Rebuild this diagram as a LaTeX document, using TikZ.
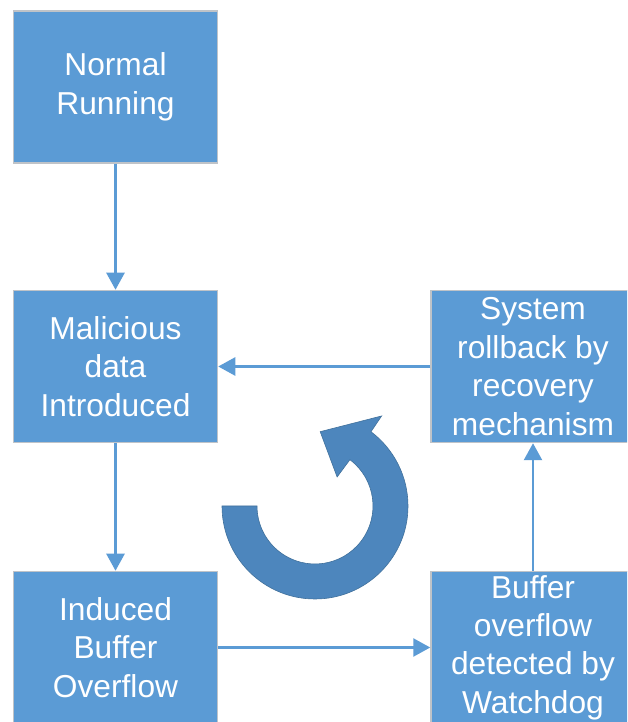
\documentclass[tikz,border=0pt]{standalone}
\usepackage{fontspec}
\setmainfont{Liberation Sans}
\usetikzlibrary{arrows.meta}
\definecolor{boxblue}{HTML}{5B9BD5}
\definecolor{boxedge}{HTML}{BFC3C8}
\definecolor{cycfill}{HTML}{4D86BD}
\definecolor{cycedge}{HTML}{41719C}
\tikzset{
  stagebox/.style={draw=boxedge, line width=1.5pt, fill=boxblue,
    minimum width=204pt, minimum height=152pt, inner sep=0pt,
    text=white, align=center,
    font=\fontsize{31.7}{38.4}\selectfont},
  flow/.style={draw=boxblue, line width=2.5pt,
    -{Triangle[length=17pt,width=18pt]}},
}
\begin{document}
\begin{tikzpicture}[x=1pt,y=1pt]
\useasboundingbox (0,0) rectangle (627,722);
\clip (0,0) rectangle (627,722);
\fill[white] (0,0) rectangle (627,722);

% process stages
\node[stagebox] (nr)  at (115.5,635)   {Normal\\Running};
\node[stagebox] (mal) at (115.5,355.5) {Malicious\\data\\Introduced};
\node[stagebox] (ind) at (115.5,74.5)  {Induced\\Buffer\\Overflow};
\node[stagebox] (det) at (533,74.5)    {Buffer\\overflow\\detected by\\Watchdog};
\node[stagebox] (rb)  at (533,355.5)   {System\\rollback by\\recovery\\mechanism};

% connectors
\draw[flow] (nr)  -- (mal);
\draw[flow] (mal) -- (ind);
\draw[flow] (ind) -- (det);
\draw[flow] (det) -- (rb);
\draw[flow] (rb)  -- (mal);

% circular cycle arrow
\coordinate (c) at (315,216);
\fill[cycfill, draw=cycedge, line width=0.6pt]
  ([shift={(180:93)}]c) arc[start angle=180, end angle=413, radius=93]
  -- ([shift={(53.5:112)}]c)
  -- ([shift={(86:74.5)}]c)
  -- ([shift={(52.7:36.5)}]c)
  -- ([shift={(53:58)}]c)
  arc[start angle=413, end angle=180, radius=58]
  -- cycle;
\end{tikzpicture}
\end{document}
